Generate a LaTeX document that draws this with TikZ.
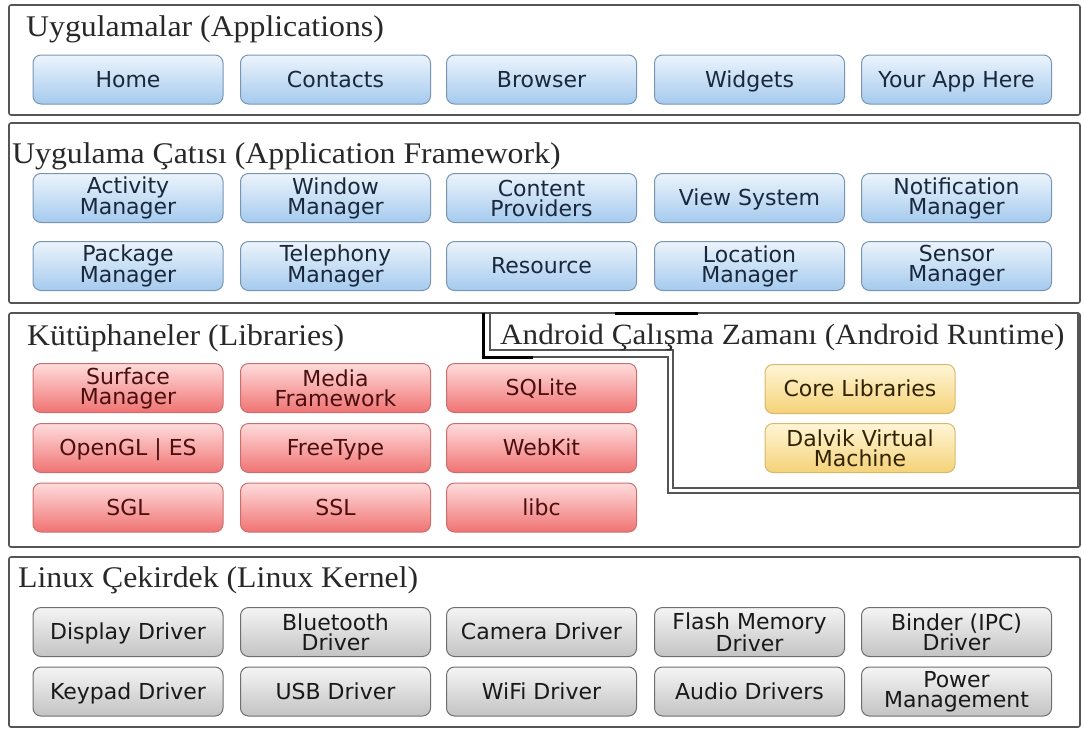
\documentclass[tikz,border=0pt]{standalone}
\usepackage{fontspec}
\setmainfont{Liberation Serif}[FakeStretch=1.06]
\newfontfamily\btnfont{DejaVu Sans}

\definecolor{layerline}{RGB}{85,85,85}
\definecolor{titletext}{RGB}{40,40,40}
\definecolor{bluetop}{RGB}{236,244,252}
\definecolor{bluebot}{RGB}{165,202,238}
\definecolor{blueline}{RGB}{120,150,180}
\definecolor{bluetext}{RGB}{25,40,60}
\definecolor{redtop}{RGB}{255,220,220}
\definecolor{redbot}{RGB}{240,115,115}
\definecolor{redline}{RGB}{205,110,110}
\definecolor{redtext}{RGB}{75,15,15}
\definecolor{goldtop}{RGB}{255,246,215}
\definecolor{goldbot}{RGB}{245,210,120}
\definecolor{goldline}{RGB}{215,185,110}
\definecolor{goldtext}{RGB}{50,35,0}
\definecolor{graytop}{RGB}{245,245,245}
\definecolor{graybot}{RGB}{195,195,195}
\definecolor{grayline}{RGB}{110,110,110}
\definecolor{graytext}{RGB}{25,25,25}

\begin{document}
\begin{tikzpicture}[x=1pt,y=-1pt,
    layer/.style={draw=layerline, line width=1.6pt, rounded corners=2pt},
    title/.style={anchor=base west, inner sep=0pt, text=titletext, font=\fontsize{30}{32}\selectfont},
    btn/.style={draw, line width=1pt, rounded corners=8pt, minimum width=190pt, minimum height=49pt,
        inner sep=1pt, align=center, font=\btnfont\fontsize{22}{20}\selectfont},
    one/.style={text height=17pt, text depth=2pt},
    app/.style={btn, draw=blueline, top color=bluetop, bottom color=bluebot, text=bluetext},
    lib/.style={btn, draw=redline, top color=redtop, bottom color=redbot, text=redtext},
    rt/.style={btn, draw=goldline, top color=goldtop, bottom color=goldbot, text=goldtext},
    drv/.style={btn, draw=grayline, top color=graytop, bottom color=graybot, text=graytext}]
    \useasboundingbox (0,0) rectangle (1083,731);

    % layers
    \draw[layer] (9,5) rectangle (1080,115);
    \draw[layer] (9,123) rectangle (1080,303);
    \draw[layer] (9,313) rectangle (1080,547);
    \draw[layer] (9,557) rectangle (1080,727);

    % runtime frame
    \draw[layerline, line width=1.2pt] (490,313) -- (490,350) -- (673,350) -- (673,488) -- (1078,488) -- (1078,313);
    \draw[layerline, line width=1.2pt] (533,357) -- (668,357) -- (668,493) -- (1080,493);
    \draw[black, line width=3pt] (483,313) -- (483,357) -- (533,357);
    \draw[black, line width=3pt] (615,313) -- (698,313);

    % titles
    \node[title] (tapp) at (26,36) {Uygulamalar (Applications)};
    \node[title] (tfw) at (12,163) {Uygulama Çatısı (Application Framework)};
    \node[title] (tlib) at (27,345) {Kütüphaneler (Libraries)};
    \node[title, font=\fontsize{29.4}{32}\selectfont] (trt) at (500,344) {Android Çalışma Zamanı (Android Runtime)};
    \node[title] (tlin) at (18,587) {Linux Çekirdek (Linux Kernel)};

    % applications
    \node[app, one] (home) at (128,79.5) {Home};
    \node[app, one] (contacts) at (335.5,79.5) {Contacts};
    \node[app, one] (browser) at (541.5,79.5) {Browser};
    \node[app, one] (widgets) at (749.5,79.5) {Widgets};
    \node[app, one] (yourapp) at (956.5,79.5) {Your App Here};

    % framework
    \node[app] (actmgr) at (128,198) {Activity\\Manager};
    \node[app] (winmgr) at (335.5,198) {Window\\Manager};
    \node[app] (content) at (541.5,198) {Content\\Providers};
    \node[app, one] (viewsys) at (749.5,198) {View System};
    \node[app] (notmgr) at (956.5,198) {Notification\\Manager};
    \node[app] (pkgmgr) at (128,266) {Package\\Manager};
    \node[app] (telmgr) at (335.5,266) {Telephony\\Manager};
    \node[app, one] (resource) at (541.5,266) {Resource};
    \node[app] (locmgr) at (749.5,266) {Location\\Manager};
    \node[app] (senmgr) at (956.5,266) {Sensor\\Manager};

    % libraries
    \node[lib] (surface) at (128,388) {Surface\\Manager};
    \node[lib] (media) at (335.5,388) {Media\\Framework};
    \node[lib, one] (sqlite) at (541.5,388) {SQLite};
    \node[lib, one] (opengl) at (128,448) {OpenGL | ES};
    \node[lib, one] (freetype) at (335.5,448) {FreeType};
    \node[lib, one] (webkit) at (541.5,448) {WebKit};
    \node[lib, one] (sgl) at (128,507.5) {SGL};
    \node[lib, one] (ssl) at (335.5,507.5) {SSL};
    \node[lib, one] (libc) at (541.5,507.5) {libc};

    % runtime
    \node[rt, one] (corelib) at (860,389) {Core Libraries};
    \node[rt] (dalvik) at (860,448) {Dalvik Virtual\\Machine};

    % kernel
    \node[drv, one] (display) at (128,632) {Display Driver};
    \node[drv] (bluetooth) at (335.5,632) {Bluetooth\\Driver};
    \node[drv, one] (camera) at (541.5,632) {Camera Driver};
    \node[drv] (flash) at (749.5,632) {Flash Memory\\Driver};
    \node[drv] (binder) at (956.5,632) {Binder (IPC)\\Driver};
    \node[drv, one] (keypad) at (128,691.5) {Keypad Driver};
    \node[drv, one] (usb) at (335.5,691.5) {USB Driver};
    \node[drv, one] (wifi) at (541.5,691.5) {WiFi Driver};
    \node[drv, one] (audio) at (749.5,691.5) {Audio Drivers};
    \node[drv] (power) at (956.5,691.5) {Power\\Management};
\end{tikzpicture}
\end{document}
